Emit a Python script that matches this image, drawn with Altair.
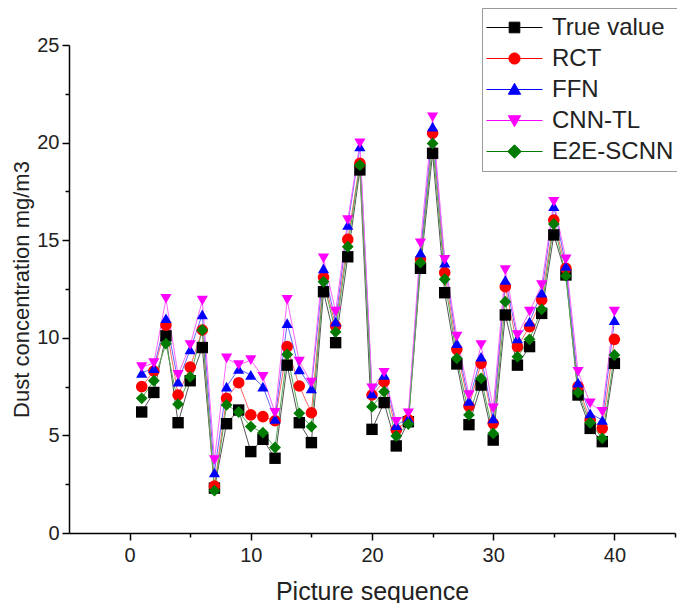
import altair as alt
import pandas as pd

seq = list(range(1, 41))
true_value = [6.2, 7.2, 10.1, 5.65, 7.8, 9.5, 2.3, 5.6, 6.3, 4.17, 4.8, 3.83, 8.6, 5.65, 4.63,
              12.36, 9.75, 14.15, 18.6, 5.31, 6.68, 4.46, 5.7, 13.56, 19.45, 12.31, 8.66, 5.55,
              7.58, 4.76, 11.17, 8.6, 9.55, 11.25, 15.27, 13.22, 7.07, 5.36, 4.68, 8.69]
rct = [7.5, 8.3, 10.65, 7.07, 8.5, 10.4, 2.4, 6.9, 7.7, 6.05, 5.96, 5.75, 9.55, 7.53, 6.16,
       13.1, 10.6, 15.04, 18.94, 7.07, 7.75, 5.28, 5.8, 14.02, 20.48, 13.34, 9.41, 6.5,
       8.69, 5.62, 12.62, 9.55, 10.57, 11.94, 16.03, 13.56, 7.5, 5.79, 5.36, 9.92]
ffn = [8.2, 8.45, 11.0, 7.75, 9.4, 11.2, 3.1, 7.5, 8.4, 8.1, 7.5, 5.85, 10.75, 8.38, 7.41,
       13.56, 10.83, 15.78, 19.8, 7.15, 8.1, 5.53, 5.87, 14.36, 20.82, 13.85, 9.72, 6.77,
       9.03, 5.87, 12.96, 9.97, 10.83, 12.31, 16.75, 13.68, 7.7, 6.13, 5.79, 10.91]
cnn_tl = [8.5, 8.7, 12.0, 8.1, 9.63, 11.9, 3.74, 8.95, 8.6, 8.86, 8.0, 6.16, 11.94, 8.78, 7.7,
          14.07, 11.34, 16.03, 19.96, 7.41, 8.21, 5.7, 6.13, 14.84, 21.3, 13.99, 10.06, 7.07,
          9.63, 6.39, 13.47, 10.14, 11.34, 12.7, 16.97, 14.02, 8.26, 6.64, 6.21, 11.34]
e2e_scnn = [6.9, 7.8, 9.7, 6.6, 8.0, 10.4, 2.17, 6.56, 6.2, 5.45, 5.14, 4.38, 9.15, 6.13, 5.45,
            12.87, 10.3, 14.67, 18.85, 6.47, 7.24, 4.97, 5.58, 13.85, 19.96, 13.0, 8.95, 6.05,
            7.92, 5.1, 11.85, 9.03, 9.92, 11.46, 15.83, 13.17, 7.19, 5.65, 4.85, 9.12]

series_names = ["True value", "RCT", "FFN", "CNN-TL", "E2E-SCNN"]
series_values = [true_value, rct, ffn, cnn_tl, e2e_scnn]
colors = ["#000000", "#ff0000", "#0000ff", "#ff00ff", "#007a00"]
line_colors = ["#555555", "#ff6666", "#6666ff", "#ff66ff", "#55aa55"]
shapes = ["square", "circle", "triangle-up", "triangle-down", "diamond"]
sizes = [130, 135, 125, 125, 140]

legend_paths = [
    "M-1,0H1M-0.19,-0.19H0.19V0.19H-0.19Z",
    "M-1,0H1M0.2,0A0.2,0.2,0,1,1,-0.2,0A0.2,0.2,0,1,1,0.2,0Z",
    "M-1,0H1M0,-0.22L0.22,0.17L-0.22,0.17Z",
    "M-1,0H1M0,0.22L0.22,-0.17L-0.22,-0.17Z",
    "M-1,0H1M0,-0.24L0.24,0L0,0.24L-0.24,0Z",
]

rows = []
for name, vals in zip(series_names, series_values):
    for s, v in zip(seq, vals):
        rows.append({"seq": s, "value": v, "series": name})
df = pd.DataFrame(rows)

FONT = "Liberation Sans"
xscale = alt.Scale(domain=[-5, 45], nice=False, zero=False)
yscale = alt.Scale(domain=[0, 25], nice=False, zero=False)

base = alt.Chart(df)

layers = []
axis_layer = base.transform_filter("false").mark_point().encode(
    x=alt.X("seq:Q", scale=xscale, axis=alt.Axis(
        values=[0, 10, 20, 30, 40], title="Picture sequence", orient="bottom",
        tickSize=7, labelPadding=5, titlePadding=14, titleFontSize=25)),
    y=alt.Y("value:Q", scale=yscale, axis=alt.Axis(
        values=[0, 5, 10, 15, 20, 25], title="Dust concentration mg/m3", orient="left",
        tickSize=7, labelPadding=3, titlePadding=3, titleFontSize=22)),
)
minor_layer = base.transform_filter("false").mark_point().encode(
    x=alt.X("seq:Q", scale=xscale, axis=alt.Axis(
        values=[5, 15, 25, 35, 45], labels=False, title=None, domain=False,
        orient="bottom", tickSize=4)),
    y=alt.Y("value:Q", scale=yscale, axis=alt.Axis(
        values=[2.5, 7.5, 12.5, 17.5, 22.5], labels=False, title=None, domain=False,
        orient="left", tickSize=4)),
)
layers += [axis_layer, minor_layer]

for name, lc in zip(series_names, line_colors):
    layers.append(
        base.transform_filter(alt.datum.series == name).mark_line(
            color=lc, strokeWidth=1
        ).encode(
            x=alt.X("seq:Q", scale=xscale, axis=None),
            y=alt.Y("value:Q", scale=yscale, axis=None),
        )
    )
for name, c, shp, sz in zip(series_names, colors, shapes, sizes):
    layers.append(
        base.transform_filter(alt.datum.series == name).mark_point(
            shape=shp, filled=True, color=c, size=sz, opacity=1
        ).encode(
            x=alt.X("seq:Q", scale=xscale, axis=None),
            y=alt.Y("value:Q", scale=yscale, axis=None),
        )
    )

leg = alt.Legend(title=None, orient="none", legendX=413, legendY=-37)
legend_layer = base.transform_filter("false").mark_point(
    filled=True, strokeWidth=1, opacity=1
).encode(
    x=alt.X("seq:Q", scale=xscale, axis=None),
    y=alt.Y("value:Q", scale=yscale, axis=None),
    fill=alt.Fill("series:N", scale=alt.Scale(domain=series_names, range=colors), legend=leg),
    stroke=alt.Stroke("series:N", scale=alt.Scale(domain=series_names, range=colors), legend=leg),
    shape=alt.Shape("series:N", scale=alt.Scale(domain=series_names, range=legend_paths), legend=leg),
    size=alt.value(3136),
)
layers.append(legend_layer)

chart = alt.layer(*layers).resolve_axis(
    x="independent", y="independent"
).properties(
    width=606, height=488,
    autosize=alt.AutoSizeParams(type="none"),
    padding={"left": 61, "top": 37, "right": 2, "bottom": 70},
).configure_view(stroke=None).configure_axis(
    domainColor="#000000", domainWidth=1.5, tickColor="#000000", tickWidth=1.5,
    labelFont=FONT, labelFontSize=20, labelColor="#222222",
    titleFont=FONT, titleFontSize=24, titleFontWeight="normal", titleColor="#222222",
    grid=False,
).configure_legend(
    labelFont=FONT, labelFontSize=24, labelColor="#222222",
    strokeColor="#999999", fillColor="#ffffff", padding=4,
    symbolStrokeWidth=1, labelOffset=9, rowPadding=0, clipHeight=31, symbolSize=3136,
)

chart.save("out.html", embed_options={"renderer": "svg", "actions": False})
